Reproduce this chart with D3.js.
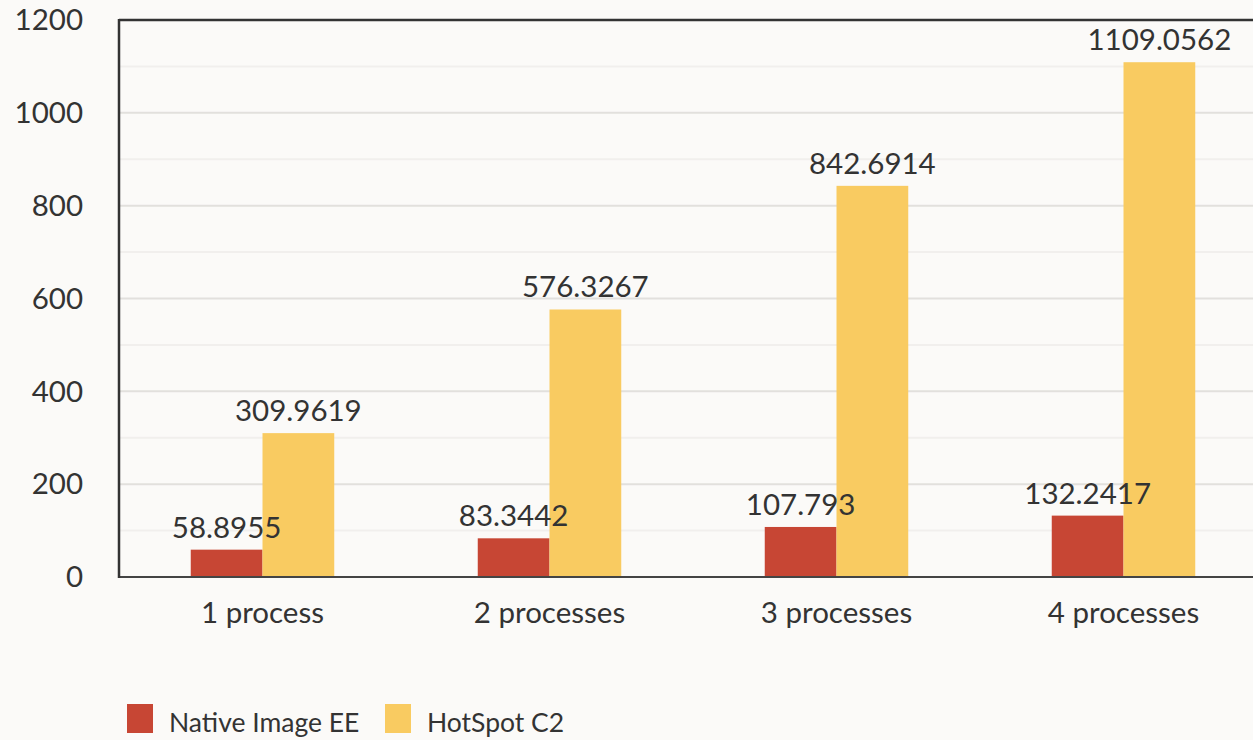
<!DOCTYPE html>
<html>
<head>
<meta charset="utf-8">
<script src="https://cdn.jsdelivr.net/npm/d3@7"></script>
<style>
  body { margin: 0; background: #fbfaf8; }
  svg { display: block; font-family: Lato, "Noto Sans", sans-serif; }
  .lbl { fill: #333; font-size: 29.5px; }
  .leg { fill: #333; font-size: 26.5px; }
</style>
</head>
<body>
<div id="chart"></div>
<script>
var categories = ["1 process", "2 processes", "3 processes", "4 processes"]
var seriesNames = ["Native Image EE", "HotSpot C2"]
var nativeImage = [58.8955, 83.3442, 107.793, 132.2417]
var hotspot = [309.9619, 576.3267, 842.6914, 1109.0562]
var nativeLabels = ["58.8955", "83.3442", "107.793", "132.2417"]
var hotspotLabels = ["309.9619", "576.3267", "842.6914", "1109.0562"]
var yTicks = [0, 200, 400, 600, 800, 1000, 1200]
var colors = ["#c74634", "#f9cb61"]

var W = 1253, H = 740
var plotLeft = 119, plotTop = 20, plotBottom = 577, plotRight = 1267

var svg = d3.select("#chart").append("svg")
  .attr("width", W).attr("height", H)

svg.append("rect").attr("width", W).attr("height", H).attr("fill", "#fbfaf8")

var x = d3.scaleBand().domain(categories).range([plotLeft, plotRight]).paddingInner(0.5).paddingOuter(0.25)
var xs = d3.scaleBand().domain(seriesNames).range([0, x.bandwidth()])
var y = d3.scaleLinear().domain([0, 1200]).range([plotBottom, plotTop])

// minor grid
svg.append("g").selectAll("line")
  .data(d3.range(100, 1200, 200))
  .enter().append("line")
  .attr("x1", plotLeft).attr("x2", W)
  .attr("y1", function(d) { return y(d) }).attr("y2", function(d) { return y(d) })
  .attr("stroke", "#f1efed").attr("stroke-width", 2)

// major grid
svg.append("g").selectAll("line")
  .data(yTicks.filter(function(d) { return d > 0 && d < 1200 }))
  .enter().append("line")
  .attr("x1", plotLeft).attr("x2", W)
  .attr("y1", function(d) { return y(d) }).attr("y2", function(d) { return y(d) })
  .attr("stroke", "#e2e0dd").attr("stroke-width", 2)

// y axis labels
svg.append("g").selectAll("text")
  .data(yTicks)
  .enter().append("text")
  .attr("class", "lbl")
  .attr("x", 83).attr("y", function(d) { return y(d) })
  .attr("dy", "0.35em")
  .attr("text-anchor", "end")
  .text(function(d) { return d })

var groups = svg.append("g").selectAll("g")
  .data(categories)
  .enter().append("g")
  .attr("transform", function(d) { return "translate(" + x(d) + ",0)" })

var data = [nativeImage, hotspot]
var labels = [nativeLabels, hotspotLabels]

seriesNames.forEach(function(s, si) {
  groups.append("rect")
    .attr("x", xs(s))
    .attr("width", xs.bandwidth())
    .attr("y", function(d, i) { return y(data[si][i]) })
    .attr("height", function(d, i) { return plotBottom - y(data[si][i]) })
    .attr("fill", colors[si])
})
seriesNames.forEach(function(s, si) {
  groups.append("text")
    .attr("class", "lbl")
    .attr("x", xs(s) + xs.bandwidth() / 2)
    .attr("y", function(d, i) { return y(data[si][i]) - 12 })
    .attr("text-anchor", "middle")
    .text(function(d, i) { return labels[si][i] })
})

// axis lines
svg.append("line").attr("x1", plotLeft).attr("x2", W).attr("y1", plotTop).attr("y2", plotTop)
  .attr("stroke", "#333").attr("stroke-width", 2.5)
svg.append("line").attr("x1", plotLeft).attr("x2", W).attr("y1", plotBottom).attr("y2", plotBottom)
  .attr("stroke", "#444").attr("stroke-width", 2)
svg.append("line").attr("x1", plotLeft).attr("x2", plotLeft).attr("y1", plotTop - 1).attr("y2", plotBottom + 1)
  .attr("stroke", "#333").attr("stroke-width", 2.5)

// category labels
svg.append("g").selectAll("text")
  .data(categories)
  .enter().append("text")
  .attr("class", "lbl")
  .attr("x", function(d) { return x(d) + x.bandwidth() / 2 })
  .attr("y", 623)
  .attr("text-anchor", "middle")
  .text(function(d) { return d })

// legend
var legendX = [127, 385]
var legend = svg.append("g").selectAll("g")
  .data(seriesNames)
  .enter().append("g")
  .attr("transform", function(d, i) { return "translate(" + legendX[i] + ",704)" })
legend.append("rect").attr("width", 26).attr("height", 29)
  .attr("fill", function(d, i) { return colors[i] })
legend.append("text").attr("class", "leg")
  .attr("x", 42).attr("y", 28)
  .text(function(d) { return d })
</script>
</body>
</html>
